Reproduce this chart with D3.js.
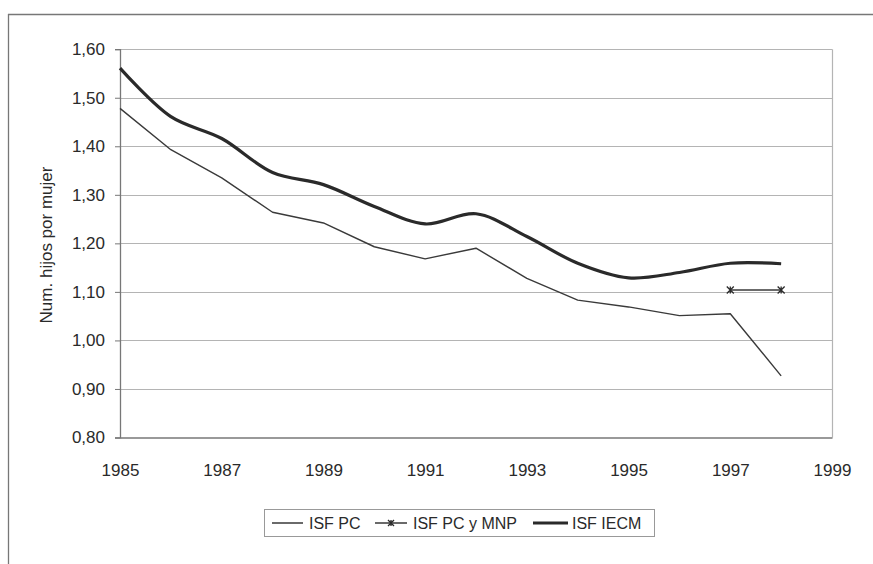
<!DOCTYPE html>
<html>
<head>
<meta charset="utf-8">
<script src="https://cdn.jsdelivr.net/npm/d3@7"></script>
<style>
  html, body { margin: 0; padding: 0; background: #fff; }
  svg { display: block; font-family: "Liberation Sans", Arial, sans-serif; }
</style>
</head>
<body>
<svg id="chart" width="873" height="564"></svg>
<script>
// Años de la serie y valores del índice sintético de fecundidad (hijos por mujer)
const years = [1985, 1986, 1987, 1988, 1989, 1990, 1991, 1992, 1993, 1994, 1995, 1996, 1997, 1998];
const isfPC = [1.478, 1.393, 1.335, 1.264, 1.242, 1.193, 1.168, 1.190, 1.128, 1.083, 1.069, 1.051, 1.055, 0.927];
const isfIECM = [1.561, 1.461, 1.416, 1.346, 1.321, 1.276, 1.240, 1.261, 1.214, 1.159, 1.129, 1.140, 1.159, 1.158];
const mnpYears = [1997, 1998];
const isfPCyMNP = [1.104, 1.104];

const yTicks = [0.8, 0.9, 1.0, 1.1, 1.2, 1.3, 1.4, 1.5, 1.6];
const xTicks = [1985, 1987, 1989, 1991, 1993, 1995, 1997, 1999];
const legendLabels = ["ISF PC", "ISF PC y MNP", "ISF IECM"];
const yTitle = "Num. hijos por mujer";

const svg = d3.select("#chart");
const x = d3.scaleLinear().domain([1985, 1999]).range([120, 832]);
const y = d3.scaleLinear().domain([0.8, 1.6]).range([437.5, 49.2]);
const fmt = v => d3.format(".2f")(v).replace(".", ",");

// Marco exterior del gráfico
svg.append("line").attr("x1", 8.5).attr("x2", 8.5).attr("y1", 14).attr("y2", 564)
  .attr("stroke", "#777").attr("stroke-width", 1.3);
svg.append("line").attr("x1", 8).attr("x2", 873).attr("y1", 14.5).attr("y2", 14.5)
  .attr("stroke", "#777").attr("stroke-width", 1.3);

// Líneas de división horizontales
svg.append("g").selectAll("line").data(yTicks.slice(1)).join("line")
  .attr("x1", x(1985)).attr("x2", x(1999))
  .attr("y1", d => Math.round(y(d)) + 0.5).attr("y2", d => Math.round(y(d)) + 0.5)
  .attr("stroke", "#b4b4b4").attr("stroke-width", 1.2);

// Borde derecho del área de trazado
svg.append("line").attr("x1", x(1999) + 0.5).attr("x2", x(1999) + 0.5)
  .attr("y1", y(1.6)).attr("y2", y(0.8))
  .attr("stroke", "#b4b4b4").attr("stroke-width", 1.2);

// Eje Y
const yAxis = d3.axisLeft(y).tickValues(yTicks).tickFormat(fmt).tickSize(5).tickPadding(10);
const gy = svg.append("g").attr("transform", `translate(${x(1985)},0)`).call(yAxis);
gy.select(".domain").attr("stroke", "#777").attr("stroke-width", 1.3);
gy.selectAll(".tick line").attr("stroke", "#777");
gy.selectAll(".tick text").attr("fill", "#2a2a2a").style("font-size", "17px")
  .style("font-family", "'Liberation Sans', Arial, sans-serif");

// Eje X
const xAxis = d3.axisBottom(x).tickValues(xTicks).tickFormat(d3.format("d")).tickSize(0).tickPadding(26);
const gx = svg.append("g").attr("transform", `translate(0,${y(0.8)})`).call(xAxis);
gx.select(".domain").attr("stroke", "#777").attr("stroke-width", 1.3);
gx.selectAll(".tick text").attr("fill", "#2a2a2a").style("font-size", "17px")
  .style("font-family", "'Liberation Sans', Arial, sans-serif");

// Título del eje Y
svg.append("text")
  .attr("transform", `translate(52,245) rotate(-90)`)
  .attr("text-anchor", "middle")
  .attr("fill", "#2a2a2a")
  .style("font-size", "17px")
  .text(yTitle);

// Series
const linePC = d3.line().x((d, i) => x(years[i])).y(d => y(d));
const lineIECM = d3.line().x((d, i) => x(years[i])).y(d => y(d)).curve(d3.curveCatmullRom.alpha(0.5));
const lineMNP = d3.line().x((d, i) => x(mnpYears[i])).y(d => y(d));

svg.append("path").datum(isfPC).attr("d", linePC)
  .attr("fill", "none").attr("stroke", "#3a3a3a").attr("stroke-width", 1.4).attr("stroke-linejoin", "round");
svg.append("path").datum(isfIECM).attr("d", lineIECM)
  .attr("fill", "none").attr("stroke", "#2a2a2a").attr("stroke-width", 3.2).attr("stroke-linejoin", "round");
svg.append("path").datum(isfPCyMNP).attr("d", lineMNP)
  .attr("fill", "none").attr("stroke", "#3a3a3a").attr("stroke-width", 1.4);

// Marcador en forma de asterisco
function star(g, cx, cy, r) {
  g.append("path")
    .attr("d", `M${cx - r},${cy - r}L${cx + r},${cy + r}M${cx - r},${cy + r}L${cx + r},${cy - r}M${cx},${cy - r}L${cx},${cy + r}`)
    .attr("stroke", "#2a2a2a").attr("stroke-width", 1.3).attr("fill", "none");
}
const gm = svg.append("g");
isfPCyMNP.forEach((v, i) => star(gm, x(mnpYears[i]), y(v), 3.5));

// Leyenda
const lg = svg.append("g");
lg.append("rect").attr("x", 264.5).attr("y", 509.5).attr("width", 390).attr("height", 27)
  .attr("fill", "#fff").attr("stroke", "#999").attr("stroke-width", 1);
const items = [
  { sx: 272, ex: 303, tx: 309, w: 1.4 },
  { sx: 375, ex: 407, tx: 413, w: 1.4, marker: true },
  { sx: 533, ex: 568, tx: 572, w: 3.2 }
];
items.forEach((it, i) => {
  lg.append("line").attr("x1", it.sx).attr("x2", it.ex).attr("y1", 523).attr("y2", 523)
    .attr("stroke", "#2a2a2a").attr("stroke-width", it.w);
  if (it.marker) star(lg, (it.sx + it.ex) / 2, 523, 3);
  lg.append("text").attr("x", it.tx).attr("y", 529).attr("fill", "#2a2a2a")
    .style("font-size", "16px").text(legendLabels[i]);
});
</script>
</body>
</html>
